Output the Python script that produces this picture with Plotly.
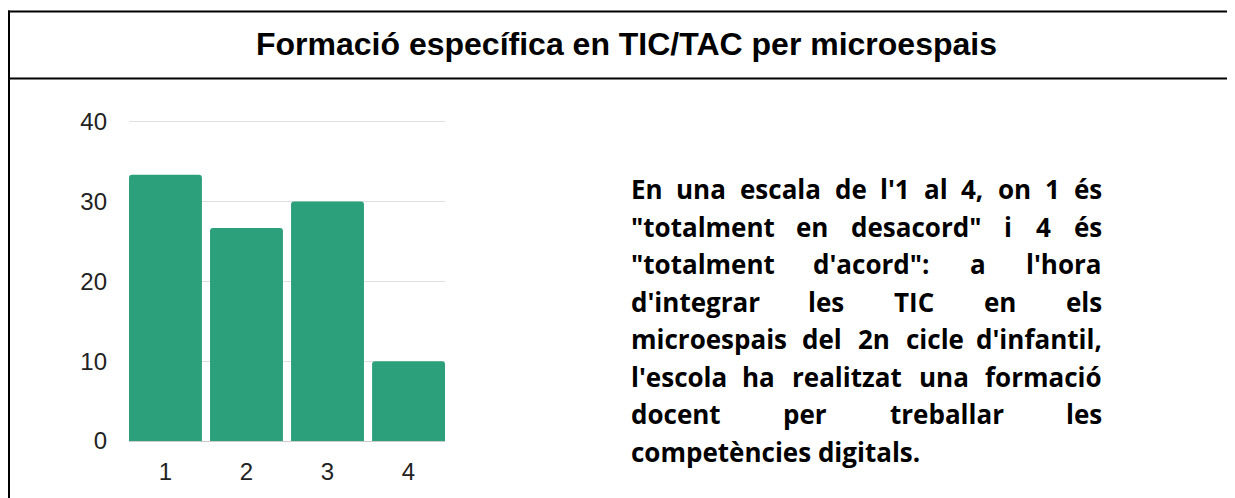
import plotly.graph_objects as go

# ---------------- data ----------------
categories = ["1", "2", "3", "4"]
values = [33.33, 26.67, 30.0, 10.0]
y_tick_values = [0, 10, 20, 30, 40]
title_text = "Formació específica en TIC/TAC per microespais"
body_lines = [
    "En una escala de l'1 al 4, on 1 és",
    "\"totalment en desacord\" i 4 és",
    "\"totalment d'acord\": a l'hora",
    "d'integrar les TIC en els",
    "microespais del 2n cicle d'infantil,",
    "l'escola ha realitzat una formació",
    "docent per treballar les",
    "competències digitals.",
]

# ---------------- layout geometry (screen pixels; page body has 8px margin) ----------------
OFF = 8
FIG_W, FIG_H = 1235 - OFF, 498 - OFF
Y_MAX = 40.2
PL, PR, PB = 129, 445, 441
PT = PB - (PB - 122) * Y_MAX / 40.0  # keep the 40 gridline at y=122
BAR_COLOR = "#2ca07a"

def px_x(px):
    return (px - PL) / (PR - PL)

def px_y(py):
    return (PB - py) / (PB - PT)

# approximate Open Sans Bold advance widths (em)
W = {' ': 0.26, '"': 0.401, "'": 0.21, ',': 0.25, '.': 0.266, ':': 0.266,
     'C': 0.628, 'E': 0.551, 'I': 0.324, 'T': 0.559,
     'a': 0.595, 'b': 0.631, 'c': 0.513, 'd': 0.631, 'e': 0.59, 'è': 0.59, 'é': 0.59,
     'f': 0.387, 'g': 0.562, 'h': 0.66, 'i': 0.305, 'l': 0.305, 'm': 0.988,
     'n': 0.66, 'o': 0.619, 'ó': 0.619, 'p': 0.631, 'r': 0.458, 's': 0.505,
     't': 0.433, 'u': 0.66, 'z': 0.491}
for d in "0123456789":
    W[d] = 0.572

BODY_SIZE = 26
def word_w(w):
    return sum(W.get(ch, 0.55) for ch in w) * BODY_SIZE

TEXT_L, TEXT_R = 630, 1103
LINE0, LINE_STEP = 189.5, 37.5

fig = go.Figure()
fig.add_trace(go.Bar(
    x=categories, y=values,
    marker=dict(color=BAR_COLOR, line=dict(width=0), cornerradius=3),
    hoverinfo="skip",
))

annotations = []
annotations.append(dict(
    text=title_text, x=px_x(626), y=px_y(45), xref="paper", yref="paper",
    xanchor="center", yanchor="middle", showarrow=False, borderpad=0,
    font=dict(family="Liberation Sans, Arial", size=32, color="#000", weight="bold"),
))

for li, line in enumerate(body_lines):
    words = line.split(" ")
    y = px_y(LINE0 + li * LINE_STEP)
    font = dict(family="Open Sans", size=BODY_SIZE, color="#000", weight="bold")
    if li == len(body_lines) - 1:
        annotations.append(dict(text=line, x=px_x(TEXT_L), y=y, xref="paper", yref="paper",
                                xanchor="left", yanchor="middle", showarrow=False,
                                borderpad=0, font=font))
        continue
    widths = [word_w(w) for w in words]
    gap = (TEXT_R - TEXT_L - sum(widths)) / (len(words) - 1)
    pos = TEXT_L
    for wi, (w, ww) in enumerate(zip(words, widths)):
        if wi == 0:
            x, anchor = pos, "left"
        elif wi == len(words) - 1:
            x, anchor = TEXT_R, "right"
        else:
            x, anchor = pos + ww / 2, "center"
        annotations.append(dict(text=w, x=px_x(x), y=y, xref="paper", yref="paper",
                                xanchor=anchor, yanchor="middle", showarrow=False,
                                borderpad=0, font=font))
        pos += ww + gap

line_style = dict(color="#000", width=2)
shapes = [
    dict(type="line", xref="paper", yref="paper", x0=px_x(8), x1=px_x(1245), y0=px_y(12), y1=px_y(12), line=line_style),
    dict(type="line", xref="paper", yref="paper", x0=px_x(8), x1=px_x(1245), y0=px_y(79), y1=px_y(79), line=line_style),
    dict(type="line", xref="paper", yref="paper", x0=px_x(9), x1=px_x(9), y0=px_y(11), y1=px_y(510), line=line_style),
]

fig.update_layout(
    width=FIG_W, height=FIG_H,
    margin=dict(l=PL - OFF, r=1235 - PR, t=PT - OFF, b=498 - PB, pad=0),
    paper_bgcolor="white", plot_bgcolor="white",
    bargap=0.1, showlegend=False,
    annotations=annotations, shapes=shapes,
    xaxis=dict(range=[-0.45, 3.45], showgrid=False, showline=False, zeroline=False, ticks="",
               tickfont=dict(family="Liberation Sans, Arial", size=24, color="#222"),
               ticklabelstandoff=14),
    yaxis=dict(range=[0, Y_MAX], tickvals=y_tick_values, showgrid=True, gridcolor="#e0e0e0",
               gridwidth=1, zeroline=True, zerolinecolor="#cccccc", zerolinewidth=1,
               showline=False, ticks="",
               tickfont=dict(family="Liberation Sans, Arial", size=24, color="#222"),
               ticklabelstandoff=21),
)

fig.write_html("out.html")
